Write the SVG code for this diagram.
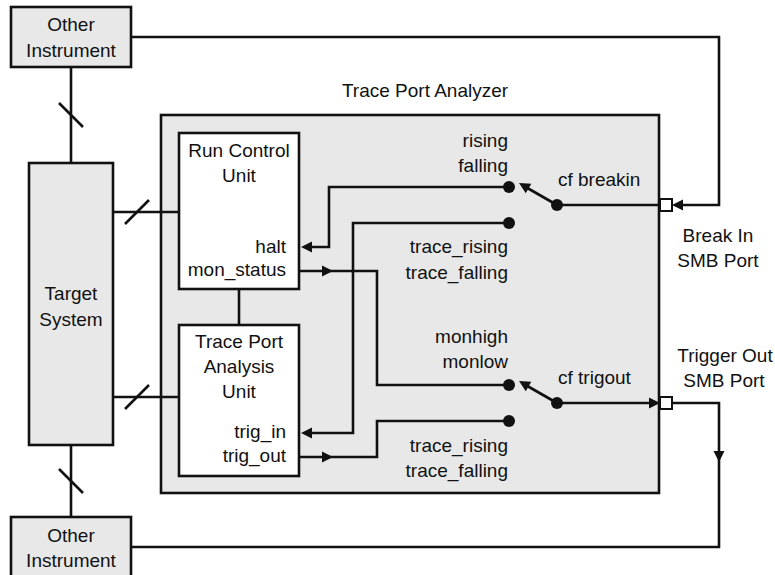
<svg xmlns="http://www.w3.org/2000/svg" xmlns:xlink="http://www.w3.org/1999/xlink" width="775" height="575" viewBox="0 0 775 575">
  <style>
    text { font-family: "Liberation Sans", Arial, sans-serif; font-size: 19px; fill: #111; }
    .mid { text-anchor: middle; }
    .end { text-anchor: end; }
    .box { stroke: #111; stroke-width: 2.6; }
    .grey { fill: #e8e8e8; }
    .white { fill: #fff; }
    .wire { fill: none; stroke: #111; stroke-width: 2.6; }
    .dot { fill: #111; }
    .head { fill: #111; }
    .port { fill: #fff; stroke: #111; stroke-width: 2; }
  </style>
  <defs>
    <!-- arrowhead with its tip at the origin, pointing along +x -->
    <path id="ah" d="M0,0 L-11,-5.5 L-11,5.5 Z"/>
  </defs>

  <!-- analyzer enclosure -->
  <g id="trace-port-analyzer">
    <rect class="box grey" x="161" y="115" width="498" height="378"/>
    <text class="mid" x="425" y="97">Trace Port Analyzer</text>
  </g>

  <g id="connectors">
    <!-- instrument / target buses -->
    <path class="wire" d="M71,67 V163 M71,445 V517"/>
    <path class="wire" d="M59,103 L83,127 M59,469 L83,493"/>
    <path class="wire" d="M113,212 H179 M113,397 H179"/>
    <path class="wire" d="M125,224 L149,200 M125,409 L149,385"/>
    <!-- unit link -->
    <path class="wire" d="M239,289 V325"/>
    <!-- halt / trig_in from selector inputs -->
    <path class="wire" d="M509,187 H329 V247 H305"/>
    <path class="wire" d="M509,223 H353 V433 H305"/>
    <!-- mon_status / trig_out to selector inputs -->
    <path class="wire" d="M299,271 H377 V385 H509"/>
    <path class="wire" d="M299,457 H377 V421 H509"/>
    <!-- switches -->
    <path class="wire" d="M557,205 L523,185.5 M557,205 H660"/>
    <path class="wire" d="M557,403 L523,383.5 M557,403 H656"/>
    <!-- external links -->
    <path class="wire" d="M131,37 H719 V205 H676"/>
    <path class="wire" d="M672,403 H719 V547 H131"/>

    <circle class="dot" cx="509" cy="187" r="6"/>
    <circle class="dot" cx="509" cy="223" r="6"/>
    <circle class="dot" cx="509" cy="385" r="6"/>
    <circle class="dot" cx="509" cy="421" r="6"/>
    <circle class="dot" cx="557" cy="205" r="6"/>
    <circle class="dot" cx="557" cy="403" r="6"/>

    <use class="head" xlink:href="#ah" transform="translate(301,247) rotate(180)"/>
    <use class="head" xlink:href="#ah" transform="translate(333,271)"/>
    <use class="head" xlink:href="#ah" transform="translate(301,433) rotate(180)"/>
    <use class="head" xlink:href="#ah" transform="translate(333,457)"/>
    <use class="head" xlink:href="#ah" transform="translate(519,183) rotate(210)"/>
    <use class="head" xlink:href="#ah" transform="translate(519,381) rotate(210)"/>
    <use class="head" xlink:href="#ah" transform="translate(672,205) rotate(180)"/>
    <use class="head" xlink:href="#ah" transform="translate(660,403)"/>
    <use class="head" xlink:href="#ah" transform="translate(719,462) rotate(90)"/>
  </g>

  <g id="other-instrument-top">
    <rect class="box grey" x="11" y="7" width="120" height="60"/>
    <text class="mid" x="71" y="31">Other</text>
    <text class="mid" x="71" y="57">Instrument</text>
  </g>

  <g id="other-instrument-bottom">
    <rect class="box grey" x="11" y="517" width="120" height="62"/>
    <text class="mid" x="71" y="542">Other</text>
    <text class="mid" x="71" y="567">Instrument</text>
  </g>

  <g id="target-system">
    <rect class="box grey" x="29" y="163" width="84" height="282"/>
    <text class="mid" x="71" y="300">Target</text>
    <text class="mid" x="71" y="326">System</text>
  </g>

  <g id="run-control-unit">
    <rect class="box white" x="179" y="133" width="120" height="156"/>
    <text class="mid" x="239" y="157">Run Control</text>
    <text class="mid" x="239" y="182">Unit</text>
    <text class="end" x="286" y="253">halt</text>
    <text class="end" x="286" y="276">mon_status</text>
  </g>

  <g id="trace-port-analysis-unit">
    <rect class="box white" x="179" y="325" width="120" height="151"/>
    <text class="mid" x="239" y="348">Trace Port</text>
    <text class="mid" x="239" y="373">Analysis</text>
    <text class="mid" x="239" y="398">Unit</text>
    <text class="end" x="286" y="438">trig_in</text>
    <text class="end" x="286" y="462">trig_out</text>
  </g>

  <g id="breakin-selector">
    <text class="end" x="508" y="147">rising</text>
    <text class="end" x="508" y="172">falling</text>
    <text x="558" y="186">cf breakin</text>
    <text class="end" x="508" y="253">trace_rising</text>
    <text class="end" x="508" y="279">trace_falling</text>
  </g>

  <g id="trigout-selector">
    <text class="end" x="508" y="343">monhigh</text>
    <text class="end" x="508" y="368">monlow</text>
    <text x="558" y="384">cf trigout</text>
    <text class="end" x="508" y="452">trace_rising</text>
    <text class="end" x="508" y="477">trace_falling</text>
  </g>

  <g id="break-in-port">
    <rect class="port" x="660" y="199" width="12" height="12"/>
    <text class="mid" x="718" y="242">Break In</text>
    <text class="mid" x="718" y="267">SMB Port</text>
  </g>

  <g id="trigger-out-port">
    <rect class="port" x="660" y="397" width="12" height="12"/>
    <text class="mid" x="725" y="362">Trigger Out</text>
    <text class="mid" x="724" y="387">SMB Port</text>
  </g>
</svg>
